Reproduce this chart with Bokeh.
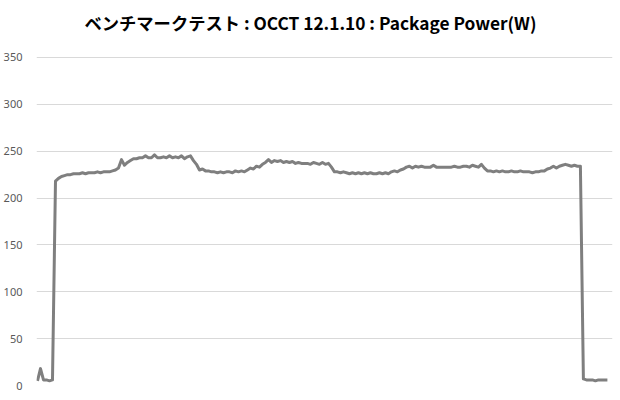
from bokeh.plotting import figure
from bokeh.models import Range1d, FixedTicker, Label
from bokeh.embed import file_html
from bokeh.resources import INLINE

title_text = "ベンチマークテスト : OCCT 12.1.10 : Package Power(W)"
y_ticks = [0, 50, 100, 150, 200, 250, 300, 350]

power_w = [
    5, 18, 6, 6, 5, 6, 218, 221, 223, 224,
    225, 225, 226, 226, 226, 227, 226, 227, 227, 227,
    228, 227, 228, 228, 228, 229, 230, 232, 241, 235,
    238, 240, 242, 242, 243, 243, 245, 243, 243, 246,
    243, 243, 244, 243, 245, 243, 244, 243, 245, 242,
    244, 245, 240, 236, 230, 231, 229, 229, 228, 228,
    227, 228, 227, 228, 228, 227, 229, 228, 229, 228,
    230, 232, 231, 234, 233, 236, 238, 241, 238, 240,
    239, 240, 238, 239, 238, 239, 237, 238, 237, 237,
    237, 236, 238, 237, 236, 238, 236, 237, 233, 228,
    228, 227, 228, 227, 226, 227, 226, 227, 226, 227,
    226, 227, 226, 226, 227, 226, 227, 226, 228, 229,
    228, 230, 231, 233, 234, 232, 234, 233, 234, 233,
    233, 233, 235, 233, 233, 233, 233, 233, 233, 234,
    233, 233, 234, 234, 233, 235, 234, 233, 236, 232,
    229, 229, 228, 229, 228, 229, 228, 228, 229, 228,
    228, 229, 228, 228, 228, 227, 228, 228, 229, 229,
    231, 232, 234, 232, 234, 235, 236, 235, 234, 235,
    234, 234, 7, 6, 6, 6, 5, 6, 6, 6,
    6,
]
sample = list(range(len(power_w)))

# frame spans the whole height; title sits in the upper (tick-free) band
p = figure(frame_width=576, frame_height=385, output_backend="svg", toolbar_location=None,
           x_range=Range1d(-0.33, 191.7), y_range=Range1d(0, 410.8),
           x_axis_location=None,
           min_border_left=29, min_border_right=1, min_border_bottom=7,
           min_border_top=0)

p.line(sample, power_w, line_color="#7f7f7f", line_width=3, line_join="round")

p.add_layout(Label(x=91.0, y=387.3, text=title_text, text_align="center",
                   text_baseline="middle", text_font="Noto Sans CJK JP",
                   text_font_size="17.3px", text_font_style="bold",
                   text_color="#000000"))

p.xgrid.visible = False
p.yaxis.ticker = FixedTicker(ticks=y_ticks)
p.yaxis.axis_line_color = None
p.yaxis.major_tick_line_color = None
p.yaxis.minor_tick_line_color = None
p.yaxis.major_label_text_font = "Noto Sans"
p.yaxis.major_label_text_font_size = "11px"
p.yaxis.major_label_text_color = "#595959"
p.yaxis.major_label_standoff = 8
p.ygrid.grid_line_color = "#d9d9d9"
p.ygrid.grid_line_width = 1
p.outline_line_color = None
p.background_fill_color = "white"
p.border_fill_color = "white"

open("out.html", "w").write(file_html(p, INLINE))
